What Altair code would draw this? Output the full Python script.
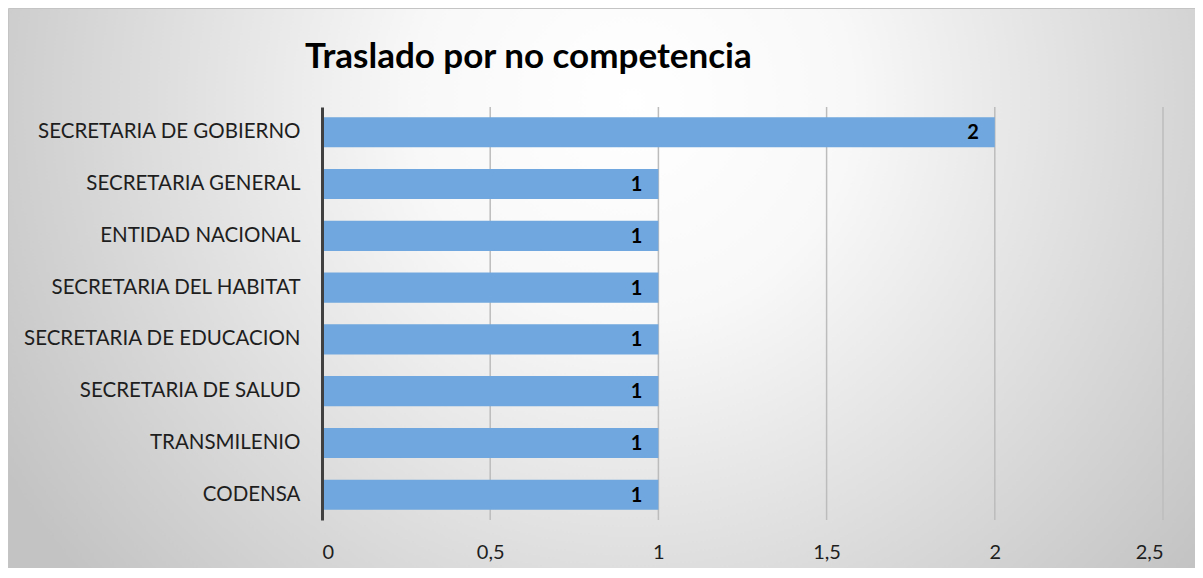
import altair as alt
import pandas as pd

categories = [
    "SECRETARIA DE GOBIERNO",
    "SECRETARIA GENERAL",
    "ENTIDAD NACIONAL",
    "SECRETARIA DEL HABITAT",
    "SECRETARIA DE EDUCACION",
    "SECRETARIA DE SALUD",
    "TRANSMILENIO",
    "CODENSA",
]
values = [2, 1, 1, 1, 1, 1, 1, 1]
tick_values = [0, 0.5, 1, 1.5, 2, 2.5]
grid_values = [0.5, 1, 1.5, 2, 2.5]
title_text = "Traslado por no competencia"

df = pd.DataFrame({"entidad": categories, "valor": values})
grid_df = pd.DataFrame({"v": grid_values})
title_df = pd.DataFrame({"t": [title_text]})

W, H = 841, 413
PL, PT, PR, PB = 314, 99, 32, 48

FONT = "Lato"

xscale = alt.Scale(domain=[0, 2.5], nice=False, zero=True)
yscale = alt.Scale(paddingInner=0.42, paddingOuter=0.2)

bg = alt.Chart(alt.Data(values=[{}])).mark_rect(
    stroke="#c4c4c4",
    strokeWidth=1,
    color=alt.RadialGradient(
        gradient="radial",
        x1=0.48, y1=0.071, r1=0,
        x2=0.48, y2=0.071, r2=0.56,
        stops=[
            alt.GradientStop(offset=0, color="#ffffff"),
            alt.GradientStop(offset=0.3, color="#f8f8f8"),
            alt.GradientStop(offset=1, color="#c3c3c3"),
        ],
    ),
).encode(
    x=alt.value(-PL + 0.5),
    x2=alt.value(-PL + 0.5 + 1300),
    y=alt.value(-PT + 0.5),
    y2=alt.value(-PT + 0.5 + 1300),
)

grid = alt.Chart(grid_df).mark_rule(color="#bcbcbc", strokeWidth=1.5).encode(
    x=alt.X("v:Q", scale=xscale),
    y=alt.value(0),
    y2=alt.value(H),
)

base = alt.Chart(df).encode(
    y=alt.Y(
        "entidad:N",
        sort=categories,
        scale=yscale,
        axis=alt.Axis(
            title=None,
            domain=True,
            domainColor="#404040",
            domainWidth=3,
            ticks=False,
            labelFont=FONT,
            labelFontSize=20.5,
            labelColor="#1e1e1e",
            labelPadding=22,
            labelLimit=400,
            zindex=1,
        ),
    ),
)

bars = base.mark_bar(color="#70a7de").encode(
    x=alt.X(
        "valor:Q",
        scale=xscale,
        axis=alt.Axis(
            title=None,
            values=tick_values,
            grid=False,
            domain=False,
            ticks=False,
            labelFont=FONT,
            labelFontSize=20,
            labelColor="#1e1e1e",
            labelPadding=22,
            labelExpr="replace(format(datum.value, '~g'), '.', ',')",
            zindex=1,
        ),
    ),
)

labels = base.mark_text(
    align="right",
    baseline="middle",
    dx=-16,
    dy=1,
    font=FONT,
    fontSize=20,
    fontWeight="bold",
    color="#000000",
).encode(
    x=alt.X("valor:Q", scale=xscale),
    text=alt.Text("valor:Q"),
)

title = alt.Chart(title_df).mark_text(
    align="left",
    baseline="alphabetic",
    font=FONT,
    fontSize=35,
    fontWeight="bold",
    color="#000000",
).encode(
    text="t:N",
    x=alt.value(-17),
    y=alt.value(-39),
)

chart = (
    alt.layer(bg, grid, bars, labels, title)
    .properties(
        width=W,
        height=H,
        padding={"left": PL, "top": PT, "right": PR, "bottom": PB},
        autosize=alt.AutoSizeParams(type="none"),
    )
    .configure_view(stroke=None)
    .configure(background="#ffffff")
)

chart.save("out.html", embed_options={"renderer": "svg", "actions": False})
